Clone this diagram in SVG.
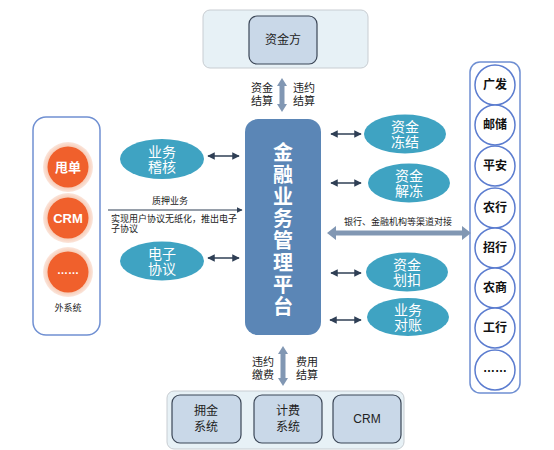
<svg xmlns="http://www.w3.org/2000/svg" width="554" height="450" viewBox="0 0 554 450">
<defs>
<marker id="ah" viewBox="0 0 10 10" refX="9" refY="5" markerWidth="5" markerHeight="5" orient="auto-start-reverse"><path d="M0,0 L10,5 L0,10 z" fill="#2f3f55"/></marker>
<radialGradient id="og" cx="0.5" cy="0.5" r="0.5"><stop offset="0.8" stop-color="#f7c9b3"/><stop offset="1" stop-color="#fbe6dc"/></radialGradient>
</defs>
<style>
text{font-family:"Liberation Sans","Noto Sans CJK SC",sans-serif;text-anchor:middle;dominant-baseline:central}
.ell{fill:#3fa3c2}
.et{fill:#fff;font-size:14px}
.bank{fill:#fff;stroke:#5b7ccf;stroke-width:1.5}
.bt{fill:#111;font-size:12px;font-weight:bold}
.gb{fill:#c9d8e8;stroke:#3b4656;stroke-width:1.2}
.gt{fill:#222;font-size:12px}
.lab{fill:#222;font-size:11px}
.sm{fill:#222;font-size:9px}
.arr{stroke:#2f3f55;stroke-width:1.5;fill:none;marker-start:url(#ah);marker-end:url(#ah)}
.big{fill:#8197b3}
.pt{fill:#fff;font-size:20px;font-weight:bold}
</style>
<rect width="554" height="450" fill="#fff"/>

<g id="top">
<rect x="203" y="10" width="165" height="58" rx="7" fill="#e7f1f6" stroke="#c8cdd2"/>
<rect x="249" y="16" width="68" height="48" rx="8" class="gb"/>
<text x="283" y="40" class="gt">资金方</text>
</g>

<g id="platform">
<rect x="245" y="119" width="76" height="216" rx="13" fill="#5b86b6"/>
<text x="283" y="153" class="pt">金</text>
<text x="283" y="175" class="pt">融</text>
<text x="283" y="197" class="pt">业</text>
<text x="283" y="219" class="pt">务</text>
<text x="283" y="241" class="pt">管</text>
<text x="283" y="263" class="pt">理</text>
<text x="283" y="285" class="pt">平</text>
<text x="283" y="307" class="pt">台</text>
</g>

<g id="external">
<rect x="33" y="117" width="67" height="218" rx="13" fill="#fff" stroke="#7090d2" stroke-width="1.5"/>
<circle cx="68" cy="167" r="25" fill="url(#og)"/>
<circle cx="68" cy="167" r="20.5" fill="#f0602c"/>
<text x="68" y="167" fill="#fff" font-size="13" font-weight="bold">甩单</text>
<circle cx="68" cy="218" r="25" fill="url(#og)"/>
<circle cx="68" cy="218" r="20.5" fill="#f0602c"/>
<text x="68" y="218" fill="#fff" font-size="13" font-weight="bold">CRM</text>
<circle cx="68" cy="272" r="25" fill="url(#og)"/>
<circle cx="68" cy="272" r="20.5" fill="#f0602c"/>
<text x="68" y="270" fill="#fff" font-size="11" font-weight="bold">……</text>
<text x="68" y="308" class="sm">外系统</text>
</g>

<g id="audit"><ellipse cx="162" cy="159" rx="42" ry="20" class="ell"/><text x="162" y="151.5" class="et">业务</text><text x="162" y="166.5" class="et">稽核</text></g>
<g id="econtract"><ellipse cx="162" cy="261" rx="42" ry="19.5" class="ell"/><text x="162" y="253.5" class="et">电子</text><text x="162" y="268.5" class="et">协议</text></g>
<g id="freeze"><ellipse cx="405" cy="134" rx="41" ry="19.5" class="ell"/><text x="405" y="126.5" class="et">资金</text><text x="405" y="141.5" class="et">冻结</text></g>
<g id="unfreeze"><ellipse cx="409" cy="183" rx="41" ry="19.5" class="ell"/><text x="409" y="175.5" class="et">资金</text><text x="409" y="190.5" class="et">解冻</text></g>
<g id="deduct"><ellipse cx="407" cy="272" rx="41" ry="19.5" class="ell"/><text x="407" y="264.5" class="et">资金</text><text x="407" y="279.5" class="et">划扣</text></g>
<g id="reconcile"><ellipse cx="408" cy="317" rx="41" ry="19" class="ell"/><text x="408" y="309.5" class="et">业务</text><text x="408" y="324.5" class="et">对账</text></g>

<g id="banks">
<rect x="470" y="62" width="50" height="331" rx="10" fill="#fff" stroke="#6f8fd2" stroke-width="1.5"/>
<circle cx="495" cy="85" r="20" class="bank"/><text x="495" y="85" class="bt">广发</text>
<circle cx="495" cy="125" r="20" class="bank"/><text x="495" y="125" class="bt">邮储</text>
<circle cx="495" cy="166" r="20" class="bank"/><text x="495" y="166" class="bt">平安</text>
<circle cx="495" cy="208" r="20" class="bank"/><text x="495" y="208" class="bt">农行</text>
<circle cx="495" cy="248" r="20" class="bank"/><text x="495" y="248" class="bt">招行</text>
<circle cx="495" cy="288" r="20" class="bank"/><text x="495" y="288" class="bt">农商</text>
<circle cx="495" cy="328" r="20" class="bank"/><text x="495" y="328" class="bt">工行</text>
<circle cx="495" cy="370" r="20" class="bank"/><text x="495" y="368" class="bt" font-weight="normal" font-size="11">……</text>
</g>

<g id="bottom">
<rect x="167" y="391" width="237" height="58" rx="7" fill="#e7f1f6" stroke="#c8cdd2"/>
<rect x="172" y="395" width="69" height="48" rx="8" class="gb"/>
<text x="206" y="411" class="gt">拥金</text><text x="206" y="427" class="gt">系统</text>
<rect x="254" y="395" width="68" height="48" rx="8" class="gb"/>
<text x="288" y="411" class="gt">计费</text><text x="288" y="427" class="gt">系统</text>
<rect x="333" y="395" width="68" height="48" rx="8" class="gb"/>
<text x="367" y="419" class="gt" font-size="11">CRM</text>
</g>

<g id="connectors">
<path d="M282,78 L287,86 L284.5,86 L284.5,104 L287,104 L282,112 L277,104 L279.5,104 L279.5,86 L277,86 z" class="big"/>
<text x="262" y="88" class="lab">资金</text><text x="262" y="101" class="lab">结算</text>
<text x="304" y="88" class="lab">违约</text><text x="304" y="101" class="lab">结算</text>
<path d="M283,346 L288,354 L285.5,354 L285.5,378 L288,378 L283,386 L278,378 L280.5,378 L280.5,354 L278,354 z" class="big"/>
<text x="263" y="362" class="lab">违约</text><text x="263" y="375" class="lab">缴费</text>
<text x="307" y="362" class="lab">费用</text><text x="307" y="375" class="lab">结算</text>

<line x1="208" y1="156" x2="239" y2="156" class="arr"/>
<line x1="208" y1="258" x2="239" y2="258" class="arr"/>
<line x1="108" y1="210" x2="242" y2="210" stroke="#2f3f55" stroke-width="1.2" marker-end="url(#ah)"/>
<text x="170" y="201" class="sm">质押业务</text>
<text x="111" y="219" class="sm" style="text-anchor:start">实现用户协议无纸化，推出电子</text>
<text x="111" y="229" class="sm" style="text-anchor:start">子协议</text>

<line x1="331" y1="134" x2="361" y2="134" class="arr"/>
<line x1="331" y1="183" x2="361" y2="183" class="arr"/>
<line x1="331" y1="273" x2="361" y2="273" class="arr"/>
<line x1="330" y1="320" x2="361" y2="320" class="arr"/>

<path d="M327,233 L336,226 L336,230.5 L462,230.5 L462,226 L471,233 L462,240 L462,235.5 L336,235.5 L336,240 z" class="big"/>
<text x="398" y="222" class="sm">银行、金融机构等渠道对接</text>
</g>
</svg>
